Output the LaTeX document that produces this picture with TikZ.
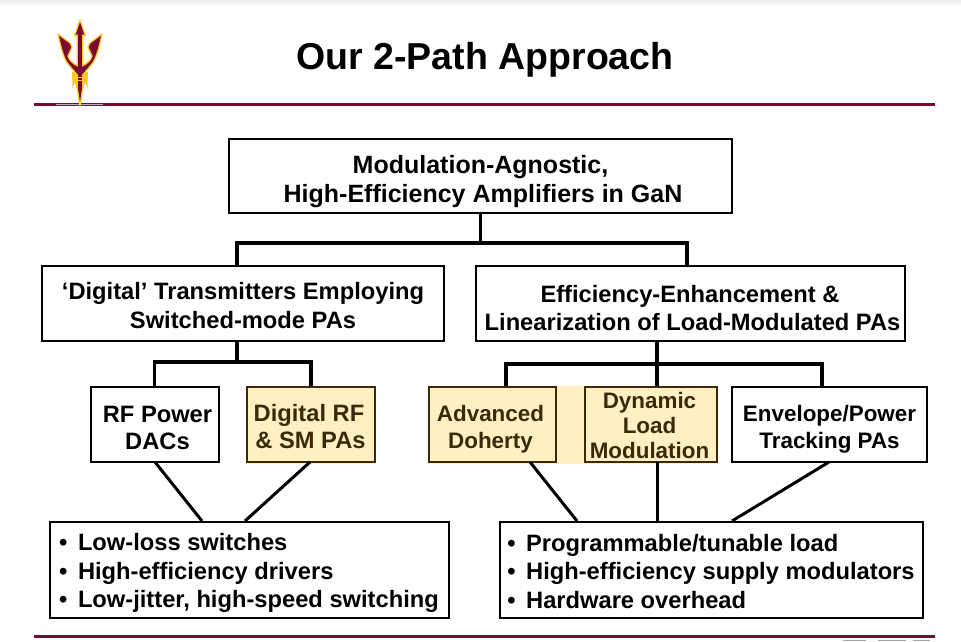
\documentclass[tikz,border=0pt]{standalone}
\usepackage{fontspec}
\setmainfont{Liberation Sans}
\usepackage{tikz}
\definecolor{asumaroon}{HTML}{7A0A33}
\definecolor{asugold}{HTML}{FFC627}
\definecolor{hilite}{HTML}{FFF0C4}
\definecolor{hitext}{HTML}{3A2A08}
\newcommand{\drop}[1]{\rule{0pt}{#1pt}}
\newcommand{\dotgap}{•\hspace{10.5pt}}
\begin{document}
\begin{tikzpicture}[x=1pt,y=-1pt,
  box/.style={draw=black,line width=2pt,align=center,font=\fontsize{23.7}{28.5}\selectfont\bfseries,inner sep=0pt},
  tight/.style={font=\fontsize{22.4}{27}\selectfont\bfseries},
  hot/.style={box,draw=hitext,text=hitext,fill=hilite},
  list/.style={box,align=left},
  bus/.style={line width=3.8pt},
  leg/.style={line width=3pt},
  rule/.style={line width=3pt,asumaroon},
  logo/.style={fill=asumaroon,draw=asugold,line width=1.2pt,line join=round}]
\useasboundingbox (0,0) rectangle (961,641);
\shade[top color=black!8,bottom color=white] (0,0) rectangle (961,6);
% rules
\draw[rule] (34,104) -- (935,104);
\draw[rule] (34,636) -- (935,636);
\draw[white!65!asumaroon,line width=1.6pt] (56,104.5) -- (103,104.5);
\foreach \xa/\xb in {843/866,878/906,913/930}
  \draw[gray!70,line width=1pt] (\xa,640.5) -- (\xb,640.5);
% trident
\fill[asugold] (72,72) -- (72.5,88) -- (75,82) -- (77,90) -- (83,90) -- (85,82) -- (87.5,88) -- (88,72) -- cycle;
\path[logo] (80,20) -- (85.5,36) -- (82.7,35) -- (82.7,66) .. controls (88,63) and (91,60) .. (92,56) -- (88,47) -- (90,43) -- (102,34)
  .. controls (99,48) and (96,60) .. (91,65) -- (82.7,75) -- (82.7,88) -- (80,106) -- (77.3,88) -- (77.3,75) -- (69,65)
  .. controls (64,60) and (61,48) .. (58,34) -- (70,43) -- (72,47) -- (68,56) .. controls (69,60) and (72,63) .. (77.3,66) -- (77.3,35) -- (74.5,36) -- cycle;
\foreach \ya in {77,80}
  \draw[asugold,line width=.7pt] (77.5,\ya) -- (82.5,\ya);
% highlight behind the boxes
\fill[hilite] (428,386) rectangle (718,464);
\fill[hilite] (246,386) rectangle (376,464);
% title
\node[font=\fontsize{37.5}{40}\selectfont\bfseries] (title) at (485,60) {Our 2-Path Approach};
% boxes
\node[box,font=\fontsize{25}{29}\selectfont\bfseries,minimum width=503pt,minimum height=74pt] (top) at (480.5,176) {\drop{30}Modulation-Agnostic,\\\hspace*{5pt}High-Efficiency Amplifiers in GaN};
\node[box,minimum width=402pt,minimum height=75pt] (digital) at (243,303.5) {\drop{21}‘Digital’ Transmitters Employing\\Switched-mode PAs};
\node[box,font=\fontsize{23.7}{28}\selectfont\bfseries,minimum width=429pt,minimum height=75pt] (effic) at (690,303.5) {\drop{27}Efficiency-Enhancement \&\\\hspace*{5pt}Linearization of Load-Modulated PAs};
\node[box,font=\fontsize{23.7}{27}\selectfont\bfseries,minimum width=128pt,minimum height=75pt] (dacs) at (154.5,424) {\drop{25}\hspace*{6pt}RF Power\\\hspace*{6pt}DACs};
\node[hot,font=\fontsize{23.7}{27}\selectfont\bfseries,minimum width=128pt,minimum height=75pt] (smpa) at (311,424) {\drop{23}\hspace*{-4pt}Digital RF\\\hspace*{-1pt}\& SM PAs};
\node[hot,tight,minimum width=127pt,minimum height=75pt] (doherty) at (492,424) {\drop{26}\hspace*{-3pt}Advanced\\\hspace*{-3pt}Doherty};
\node[hot,font=\fontsize{22.4}{25}\selectfont\bfseries,minimum width=132pt,minimum height=75pt] (dlm) at (651,424) {\drop{19}\hspace*{-3pt}Dynamic\\\hspace*{-3pt}Load\\\hspace*{-3pt}Modulation};
\node[box,tight,minimum width=195pt,minimum height=75pt] (envelope) at (829.5,424) {\drop{26}Envelope/Power\\Tracking PAs};
\node[list,minimum width=399pt,minimum height=96pt] (listl) at (249,569.5) {\drop{24}\dotgap Low-loss switches\\\dotgap High-efficiency drivers\\\dotgap Low-jitter, high-speed switching};
\node[list,minimum width=423pt,minimum height=96pt] (listr) at (711,569.5) {\drop{21}\dotgap Programmable/tunable load\\\dotgap High-efficiency supply modulators\\\dotgap Hardware overhead};
% connectors
\coordinate (topj) at (480.5,243);
\coordinate (topl) at (237,243);
\coordinate (topr) at (687,243);
\draw[bus] (top.south) -- (topj);
\draw[bus] (digital.north -| topl) -- (topl) -- (topr) -- (effic.north -| topr);
\coordinate (digj) at (237,362);
\coordinate (effj) at (657,364);
\coordinate (effl) at (506,364);
\coordinate (effr) at (822,364);
\draw[bus] (digital.south -| digj) -- (digj);
\draw[bus] (dacs.north) |- (digj) -| (smpa.north);
\draw[bus] (effic.south -| effj) -- (dlm.north -| effj);
\draw[bus] (doherty.north -| effl) -- (effl) -- (effr) -- (envelope.north -| effr);
\coordinate (legla) at (155,462);
\coordinate (leglb) at (202,521);
\coordinate (legra) at (310,462);
\coordinate (leglc) at (245,521);
\draw[leg] (legla) -- (leglb);
\draw[leg] (legra) -- (leglc);
\coordinate (legrb) at (530,462);
\coordinate (legrc) at (577,521);
\coordinate (legrd) at (657,462);
\coordinate (legre) at (657,521);
\coordinate (legrf) at (829,462);
\coordinate (legrg) at (732,521);
\draw[leg] (legrb) -- (legrc);
\draw[leg] (legrd) -- (legre);
\draw[leg] (legrf) -- (legrg);
\end{tikzpicture}
\end{document}
